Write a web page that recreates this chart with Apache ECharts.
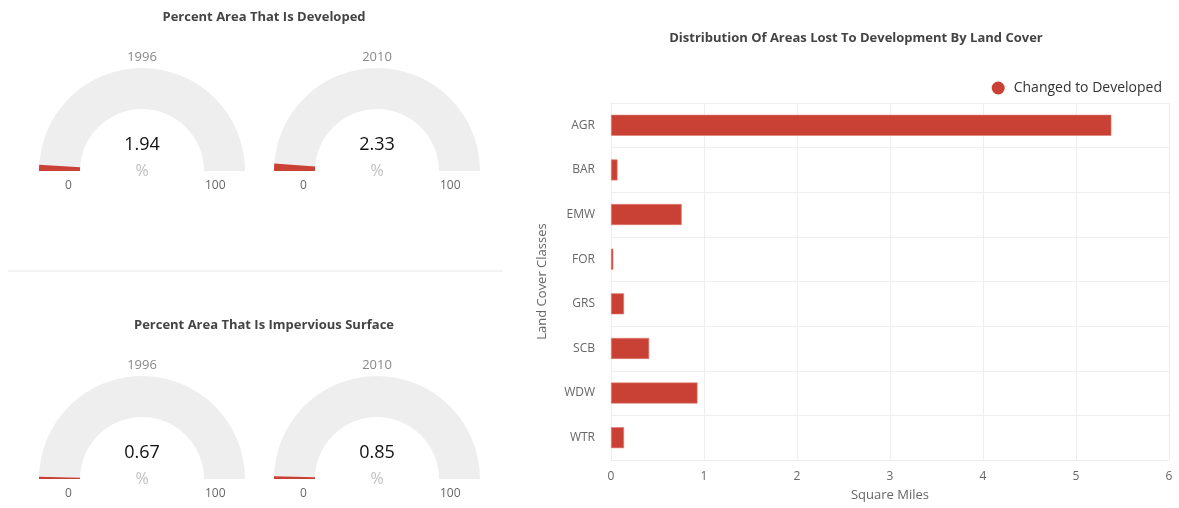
<!DOCTYPE html>
<html>
<head>
<meta charset="utf-8">
<script src="https://cdn.jsdelivr.net/npm/echarts@6/dist/echarts.min.js"></script>
<style>
html,body{margin:0;padding:0;background:#fff;}
#chart{width:1179px;height:508px;}
</style>
</head>
<body>
<div id="chart"></div>
<script>
// ---- Data ----
const gaugeYears = ['1996', '2010'];
const developedPct = [1.94, 2.33];
const imperviousPct = [0.67, 0.85];
const gaugeTickLabels = ['0', '100'];
const landCoverClasses = ['AGR', 'BAR', 'EMW', 'FOR', 'GRS', 'SCB', 'WDW', 'WTR'];
const changedToDeveloped = [5.38, 0.07, 0.76, 0.025, 0.14, 0.41, 0.93, 0.14];
const squareMileTicks = [0, 1, 2, 3, 4, 5, 6];

const RED = '#c84134';
const FONT = '"Open Sans", "DejaVu Sans", sans-serif';

const chart = echarts.init(document.getElementById('chart'), null, {renderer: 'canvas'});

const gaugeCentersX = [142, 377];
const panelRowsY = [171, 479];
const R = 103, BAND = 41;

function makeGauge(cx, cy, year, value) {
  return {
    type: 'gauge',
    center: [cx, cy],
    radius: R,
    startAngle: 180,
    endAngle: 0,
    min: 0,
    max: 100,
    splitNumber: 1,
    animation: false,
    axisLine: {lineStyle: {width: BAND, color: [[1, '#eeeeee']]}},
    progress: {show: true, width: BAND, roundCap: false, itemStyle: {color: RED}},
    pointer: {show: false},
    axisTick: {show: false},
    splitLine: {show: false},
    axisLabel: {show: false},
    anchor: {show: false},
    title: {offsetCenter: [0, -114], color: '#888', fontSize: 13, fontFamily: FONT},
    detail: {
      offsetCenter: [0, -13],
      valueAnimation: false,
      fontWeight: 'normal',
      formatter: function (v) { return '{v|' + v.toFixed(2) + '}\n{u|%}'; },
      rich: {
        v: {fontSize: 18, color: '#111', fontWeight: 'normal', fontFamily: FONT, lineHeight: 27},
        u: {fontSize: 16, color: '#c0c0c0', fontWeight: 'normal', fontFamily: FONT, lineHeight: 27}
      }
    },
    data: [{value: value, name: year}]
  };
}

const series = [];
const graphics = [];
[developedPct, imperviousPct].forEach(function (vals, row) {
  vals.forEach(function (v, i) {
    const cx = gaugeCentersX[i], cy = panelRowsY[row];
    series.push(makeGauge(cx, cy, gaugeYears[i], v));
    graphics.push({type: 'text', left: cx - 74 - 3, top: cy + 9,
      style: {text: gaugeTickLabels[0], fill: '#666', font: '12px ' + FONT}});
    graphics.push({type: 'text', left: cx + 73 - 10, top: cy + 9,
      style: {text: gaugeTickLabels[1], fill: '#666', font: '12px ' + FONT}});
  });
});

graphics.push({type: 'line', shape: {x1: 8, y1: 271, x2: 503, y2: 271},
  style: {stroke: '#e6e6e6', lineWidth: 1}});

series.push({
  type: 'bar',
  name: 'Changed to Developed',
  xAxisIndex: 0,
  yAxisIndex: 0,
  data: changedToDeveloped,
  barWidth: 21,
  itemStyle: {color: RED, borderColor: '#e07d72', borderWidth: 0.6},
  animation: false
});

const option = {
  backgroundColor: '#fff',
  animation: false,
  textStyle: {fontFamily: FONT},
  title: [
    {text: 'Percent Area That Is Developed', left: 259, top: 6, textAlign: 'center',
     textStyle: {fontSize: 13, fontWeight: 'bold', color: '#444', fontFamily: FONT}},
    {text: 'Percent Area That Is Impervious Surface', left: 259, top: 314, textAlign: 'center',
     textStyle: {fontSize: 13, fontWeight: 'bold', color: '#444', fontFamily: FONT}},
    {text: 'Distribution Of Areas Lost To Development By Land Cover', left: 851, top: 27, textAlign: 'center',
     textStyle: {fontSize: 13, fontWeight: 'bold', color: '#444', fontFamily: FONT}}
  ],
  legend: {
    data: ['Changed to Developed'],
    right: 12,
    top: 76,
    icon: 'circle',
    itemWidth: 13,
    itemHeight: 13,
    itemStyle: {borderWidth: 0, color: RED},
    textStyle: {fontSize: 14, color: '#333', fontFamily: FONT, padding: [0, 0, 0, 4]}
  },
  grid: {left: 611, right: 10, top: 103, bottom: 48, containLabel: false},
  xAxis: {
    type: 'value',
    min: squareMileTicks[0],
    max: squareMileTicks[squareMileTicks.length - 1],
    interval: 1,
    name: 'Square Miles',
    nameLocation: 'middle',
    nameGap: 29,
    nameTextStyle: {fontSize: 13, color: '#666', fontFamily: FONT},
    axisLine: {show: false},
    axisTick: {show: false},
    axisLabel: {color: '#666', fontSize: 12, margin: 11, fontFamily: FONT},
    splitLine: {show: true, lineStyle: {color: '#eeeeee'}}
  },
  yAxis: {
    type: 'category',
    data: landCoverClasses,
    inverse: true,
    name: 'Land Cover Classes',
    nameLocation: 'middle',
    nameRotate: 90,
    nameGap: 62,
    nameTextStyle: {fontSize: 13, color: '#666', fontFamily: FONT},
    axisLine: {show: false},
    axisTick: {show: false},
    axisLabel: {color: '#666', fontSize: 12, margin: 16, fontFamily: FONT},
    splitLine: {show: true, lineStyle: {color: '#eeeeee'}}
  },
  graphic: graphics,
  series: series
};

chart.setOption(option);
</script>
</body>
</html>
